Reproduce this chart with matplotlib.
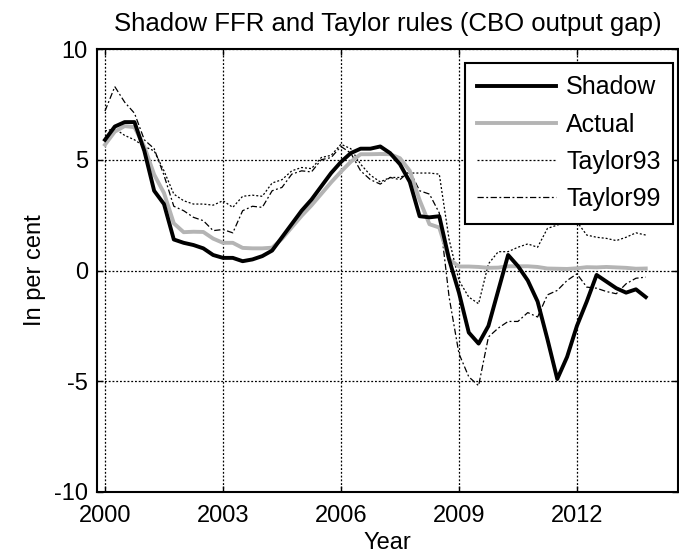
import numpy as np
import matplotlib
matplotlib.use("Agg")
from matplotlib import pyplot as plt

plt.rcParams['font.family'] = ['Liberation Sans', 'DejaVu Sans']
plt.rcParams['axes.unicode_minus'] = False

# quarterly observations, 2000Q1 - 2013Q4
quarters = 2000 + np.arange(56) / 4.0

shadow = [5.9, 6.5, 6.7, 6.7, 5.4, 3.6, 3.0, 1.4,
          1.25, 1.15, 1.0, 0.7, 0.57, 0.57, 0.42, 0.5,
          0.65, 0.9, 1.5, 2.1, 2.7, 3.2, 3.8, 4.4,
          4.9, 5.3, 5.5, 5.5, 5.6, 5.3, 4.8, 4.0,
          2.45, 2.4, 2.45, 0.5, -1.0, -2.8, -3.3, -2.5,
          -0.9, 0.7, 0.2, -0.45, -1.4, -3.1, -4.9, -3.9,
          -2.5, -1.4, -0.2, -0.5, -0.8, -1.0, -0.85, -1.2]

actual = [5.68, 6.27, 6.52, 6.47, 5.59, 4.33, 3.50, 2.13,
          1.73, 1.75, 1.74, 1.44, 1.25, 1.25, 1.02, 1.00,
          1.00, 1.03, 1.43, 1.95, 2.47, 2.94, 3.46, 3.98,
          4.46, 4.91, 5.25, 5.25, 5.26, 5.25, 5.07, 4.50,
          3.18, 2.09, 1.94, 0.51, 0.18, 0.18, 0.16, 0.12,
          0.13, 0.19, 0.19, 0.19, 0.16, 0.09, 0.08, 0.07,
          0.10, 0.15, 0.14, 0.16, 0.14, 0.12, 0.08, 0.09]

taylor93 = [6.3, 6.4, 6.1, 5.9, 5.6, 5.4, 4.5, 3.45,
            3.15, 3.0, 3.0, 2.95, 3.15, 2.85, 3.35, 3.4,
            3.35, 3.95, 4.1, 4.5, 4.65, 4.6, 5.1, 5.2,
            5.7, 5.5, 4.8, 4.3, 4.0, 4.2, 4.2, 4.4,
            4.4, 4.4, 4.35, 1.4, -0.45, -1.2, -1.5, 0.3,
            0.85, 0.85, 1.05, 1.2, 1.05, 1.9, 2.05, 2.2,
            2.2, 1.6, 1.5, 1.45, 1.35, 1.5, 1.7, 1.6]

taylor99 = [7.2, 8.3, 7.6, 7.1, 5.9, 5.5, 4.3, 2.9,
            2.7, 2.4, 2.25, 1.8, 1.85, 1.7, 2.7, 2.9,
            2.85, 3.6, 3.75, 4.35, 4.5, 4.45, 5.0, 5.1,
            5.6, 5.3, 4.5, 4.1, 3.9, 4.2, 4.1, 4.5,
            3.6, 3.45, 2.6, -1.2, -3.75, -4.8, -5.2, -3.0,
            -2.6, -2.3, -2.3, -1.9, -2.1, -1.1, -0.9, -0.45,
            -0.15, -0.75, -0.8, -0.95, -1.05, -0.6, -0.35, -0.3]

year_ticks = [2000, 2003, 2006, 2009, 2012]
y_ticks = [-10, -5, 0, 5, 10]

fig = plt.figure(figsize=(6.79, 5.59), dpi=100)
ax = fig.add_axes([97 / 679, 67 / 559, 581 / 679, 443 / 559])

ax.plot(quarters, shadow, color='black', lw=2.8, label='Shadow', zorder=5)
ax.plot(quarters, actual, color='#b4b4b4', lw=2.8, label='Actual', zorder=4)
ax.plot(quarters, taylor93, color='black', lw=0.9, ls=(0, (1.6, 1.6)), label='Taylor93', zorder=3)
ax.plot(quarters, taylor99, color='black', lw=0.9, ls=(0, (5, 2, 1.5, 2)), label='Taylor99', zorder=3)

ax.set_xlim(1999.797, 2014.57)
ax.set_ylim(-10, 10)
ax.set_xticks(year_ticks)
ax.set_yticks(y_ticks)
ax.grid(True, color='black', ls=(0, (1.5, 1.5)), lw=0.9)
ax.tick_params(direction='in', length=4, width=1, labelsize=17, top=True, right=True)
ax.tick_params(axis='x', pad=9)
ax.tick_params(axis='y', pad=6.5)
for s in ax.spines.values():
    s.set_linewidth(1.5)

ax.set_title('Shadow FFR and Taylor rules (CBO output gap)', fontsize=18.5, pad=13)
ax.set_xlabel('Year', fontsize=17, labelpad=4)
ax.set_ylabel('In per cent', fontsize=17, labelpad=6)

leg = ax.legend(loc='upper right', bbox_to_anchor=(0.9914, 0.9684), borderaxespad=0,
                fontsize=18, handlelength=3.15, handletextpad=0.4, labelspacing=0.53,
                borderpad=0.5, fancybox=False, framealpha=1, edgecolor='black')
leg.get_frame().set_linewidth(1.5)

fig.savefig('out.png', dpi=100)
